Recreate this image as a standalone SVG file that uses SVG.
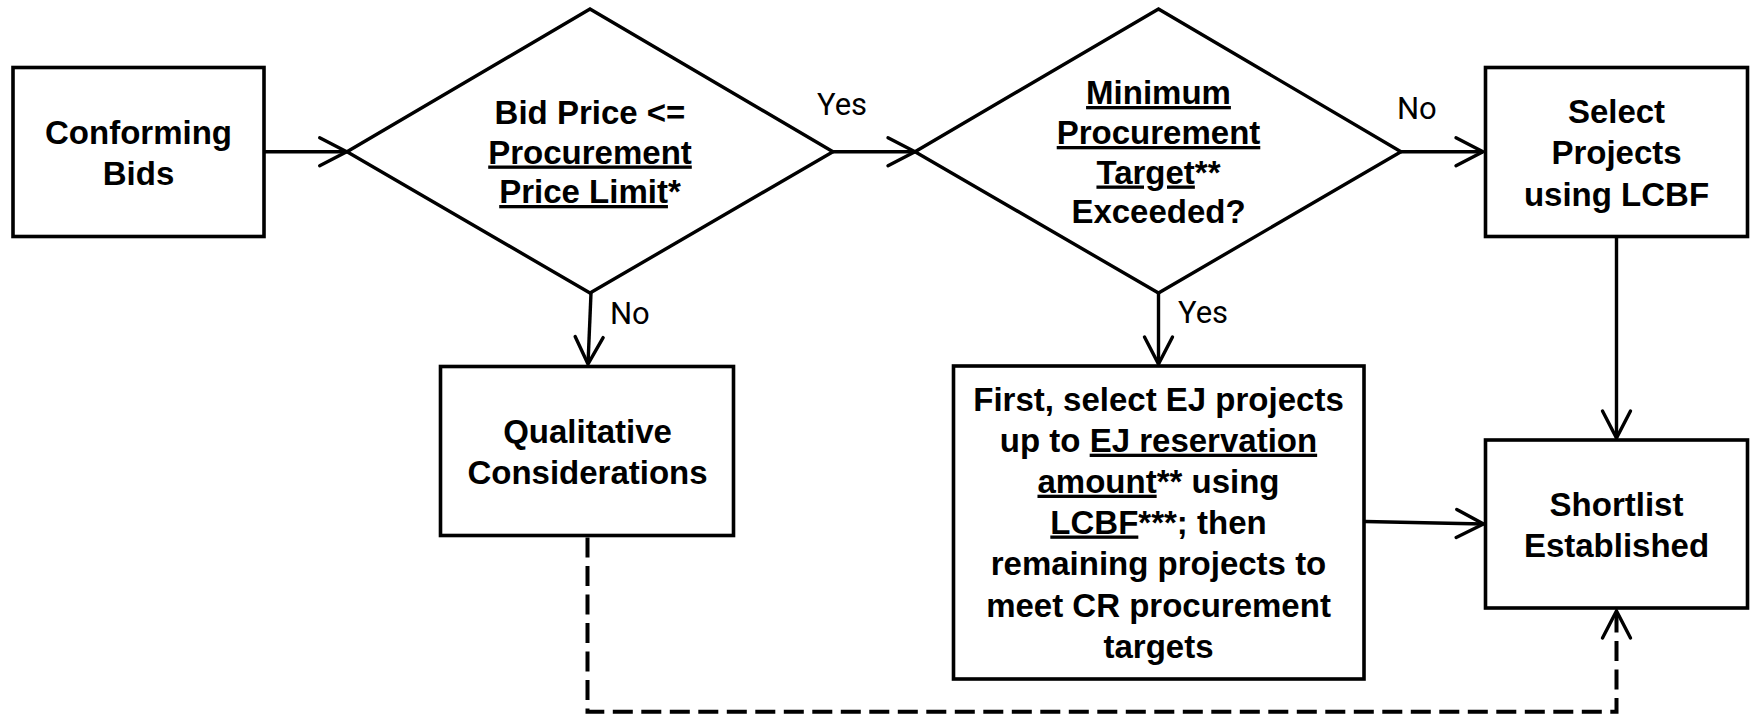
<svg xmlns="http://www.w3.org/2000/svg" width="1755" height="716" viewBox="0 0 1755 716">
<defs>
<style>
.box{fill:#fff;stroke:#000;stroke-width:3.6}
.dia{fill:#fff;stroke:#000;stroke-width:3.4}
.lbl{font-family:"Liberation Sans",Arial,sans-serif;font-weight:bold;font-size:33px;fill:#000;text-anchor:middle}
.yn{font-family:Roboto,"Liberation Sans",sans-serif;font-size:31px;fill:#000}
.u{text-decoration:underline}
.conn{fill:none;stroke:#000;stroke-width:3.4}
.dash{stroke-dasharray:20 8.5;stroke-width:4}
</style>
<marker id="arr" markerUnits="userSpaceOnUse" viewBox="0 0 32 32" markerWidth="32" markerHeight="32" refX="29" refY="16" orient="auto" overflow="visible">
<path d="M2,2 L29,16 L2,30" fill="none" stroke="#000" stroke-width="3.4" stroke-linecap="round" stroke-linejoin="miter" stroke-dasharray="none"/>
</marker>
</defs>
<rect width="1755" height="716" fill="#fff"/>

<g id="connectors">
<path class="conn" d="M265,151.7 H346.7" marker-end="url(#arr)"/>
<path class="conn" d="M833,151.7 H915" marker-end="url(#arr)"/>
<path class="conn" d="M1401,151.7 H1483" marker-end="url(#arr)"/>
<path class="conn" d="M591,293 L588,364" marker-end="url(#arr)"/>
<path class="conn" d="M1158.5,293 V364" marker-end="url(#arr)"/>
<path class="conn" d="M1616.5,238 V438" marker-end="url(#arr)"/>
<path class="conn" d="M1365,521.5 L1483.5,524" marker-end="url(#arr)"/>
<path class="conn dash" d="M587.5,537.5 V711.7 H1616.5 V611" marker-end="url(#arr)"/>
<text class="yn" x="817" y="115">Yes</text>
<text class="yn" x="1397" y="119">No</text>
<text class="yn" x="610" y="324">No</text>
<text class="yn" x="1178" y="323">Yes</text>
</g>

<g id="conforming-bids">
<rect class="box" x="13" y="67.5" width="251" height="169"/>
<text class="lbl" x="138.5" y="144">Conforming<tspan x="138.5" dy="41">Bids</tspan></text>
</g>

<g id="price-check">
<polygon class="dia" points="347,151.7 590,9 833,151.7 590,293"/>
<text class="lbl" x="590" y="124">Bid Price &lt;=<tspan x="590" dy="39.5" class="u">Procurement</tspan><tspan x="590" dy="39.5"><tspan class="u">Price Limit</tspan>*</tspan></text>
</g>

<g id="target-check">
<polygon class="dia" points="915,151.7 1158.5,9 1401,151.7 1158.5,293"/>
<text class="lbl" x="1158.5" y="104"><tspan class="u">Minimum</tspan><tspan x="1158.5" dy="40" class="u">Procurement</tspan><tspan x="1158.5" dy="39.5"><tspan class="u">Target</tspan>**</tspan><tspan x="1158.5" dy="39.5">Exceeded?</tspan></text>
</g>

<g id="select-lcbf">
<rect class="box" x="1485.5" y="67.5" width="262" height="169"/>
<text class="lbl" x="1616.5" y="122.7">Select<tspan x="1616.5" dy="41.6">Projects</tspan><tspan x="1616.5" dy="41.4">using LCBF</tspan></text>
</g>

<g id="qualitative">
<rect class="box" x="440.5" y="366.5" width="293" height="169"/>
<text class="lbl" x="587.5" y="443">Qualitative<tspan x="587.5" dy="41">Considerations</tspan></text>
</g>

<g id="ej-selection">
<rect class="box" x="953.5" y="366" width="410.5" height="313"/>
<text class="lbl" x="1158.5" y="410.7">First, select EJ projects<tspan x="1158.5" dy="41">up to <tspan class="u">EJ reservation</tspan></tspan><tspan x="1158.5" dy="41"><tspan class="u">amount</tspan>** using</tspan><tspan x="1158.5" dy="40.8"><tspan class="u">LCBF</tspan>***; then</tspan><tspan x="1158.5" dy="41.5">remaining projects to</tspan><tspan x="1158.5" dy="41.7">meet CR procurement</tspan><tspan x="1158.5" dy="41.6">targets</tspan></text>
</g>

<g id="shortlist">
<rect class="box" x="1485.5" y="440" width="262" height="168"/>
<text class="lbl" x="1616.5" y="516">Shortlist<tspan x="1616.5" dy="40.7">Established</tspan></text>
</g>
</svg>
